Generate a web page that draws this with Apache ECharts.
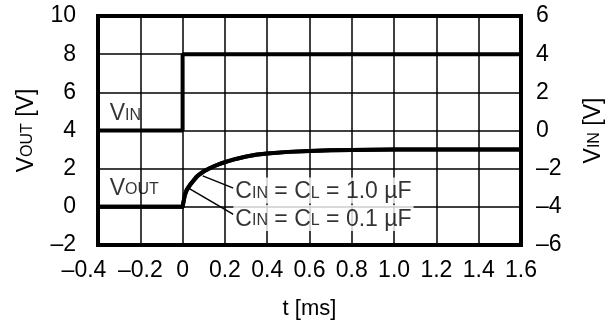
<!DOCTYPE html>
<html>
<head>
<meta charset="utf-8">
<script src="https://cdn.jsdelivr.net/npm/echarts@6/dist/echarts.min.js"></script>
<style>
  html, body { margin: 0; padding: 0; background: #fff; }
  #chart { width: 607px; height: 322px; }
</style>
</head>
<body>
<div id="chart"></div>
<script>
// time axis of the VOUT traces, ms
const tMs = [-0.4, 0, 0.01, 0.02, 0.035, 0.05, 0.067, 0.08, 0.1, 0.125, 0.15, 0.18, 0.21, 0.25,
  0.3, 0.35, 0.4, 0.5, 0.6, 0.7, 0.8, 0.9, 1.0, 1.2, 1.4, 1.6];
// VOUT for CIN = CL = 1.0 uF and 0.1 uF (they overlap almost completely)
const vout1uF = [0, 0, 0.58, 0.88, 1.13, 1.34, 1.57, 1.69, 1.85, 2.0, 2.13, 2.26, 2.37, 2.5,
  2.63, 2.73, 2.8, 2.88, 2.93, 2.96, 2.98, 2.99, 3.0, 3.0, 3.0, 3.0];
const vout01uF = [0, 0, 0.62, 0.92, 1.17, 1.37, 1.6, 1.71, 1.87, 2.01, 2.14, 2.27, 2.38, 2.51,
  2.64, 2.74, 2.8, 2.88, 2.93, 2.96, 2.98, 2.99, 3.0, 3.0, 3.0, 3.0];
// VIN step (right axis)
const vinT = [-0.4, 0, 0, 1.6];
const vinV = [0, 0, 4, 4];

const FONT = 'Liberation Sans';
const FS = 23;
const dash = s => String(s).replace('-', '\u2013');

const rich = {
  a: { fontFamily: FONT, fontSize: FS, color: '#000', verticalAlign: 'bottom', lineHeight: 26 },
  s: { fontFamily: FONT, fontSize: 16, color: '#000', verticalAlign: 'bottom', lineHeight: 18, padding: [0, 0, 2, 0] }
};

function pairs(xs, ys) {
  return xs.map((x, i) => [x, ys[i]]);
}

function textMark(t, v, text, bg) {
  return {
    type: 'scatter', yAxisIndex: 0, symbolSize: 0, silent: true,
    data: [[t, v]],
    label: {
      show: true, position: 'right', distance: 0, formatter: text, rich: rich,
      backgroundColor: bg ? '#fff' : 'transparent', padding: bg ? [0, 2, 0, 2] : 0
    },
    z: 5
  };
}

function leader(t0, v0, t1, v1) {
  return {
    type: 'line', yAxisIndex: 0, symbol: 'none', silent: true,
    data: [[t0, v0], [t1, v1]],
    lineStyle: { color: '#000', width: 1.5 }
  };
}

const chart = echarts.init(document.getElementById('chart'), null, { renderer: 'canvas' });

const option = {
  animation: false,
  backgroundColor: '#fff',
  grid: {
    left: 98, right: 86, top: 16, bottom: 77,
    outerBoundsMode: 'none', containLabel: false,
    show: true, borderWidth: 4, borderColor: '#000', backgroundColor: 'transparent'
  },
  xAxis: {
    type: 'value', min: -0.4, max: 1.6, interval: 0.2,
    name: 't [ms]', nameLocation: 'middle', nameGap: 53,
    nameTextStyle: { fontFamily: FONT, fontSize: 22, color: '#000' },
    axisLine: { show: false }, axisTick: { show: false },
    axisLabel: {
      fontFamily: FONT, fontSize: FS, color: '#000', margin: 14,
      formatter: v => {
        if (Math.abs(v + 0.4) < 1e-9) return '{l|' + dash('-0.4') + '}';
        return dash(Math.abs(v) < 1e-9 ? '0' : v.toFixed(1));
      },
      rich: { l: { fontFamily: FONT, fontSize: FS, color: '#000', padding: [0, 28, 0, 0] } }
    },
    splitLine: { show: true, lineStyle: { color: '#000', width: 1.5 } }
  },
  yAxis: [
    {
      type: 'value', min: -2, max: 10, interval: 2, position: 'left',
      name: '{a|V}{s|OUT}{a| [V]}', nameLocation: 'middle', nameGap: 60,
      nameTextStyle: { rich: rich },
      axisLine: { show: false }, axisTick: { show: false },
      axisLabel: { fontFamily: FONT, fontSize: FS, color: '#000', margin: 22, formatter: v => dash(v) },
      splitLine: { show: true, lineStyle: { color: '#000', width: 1.5 } }
    },
    {
      type: 'value', min: -6, max: 6, interval: 2, position: 'right',
      name: '{a|V}{s|IN}{a| [V]}', nameLocation: 'middle', nameGap: 58,
      nameTextStyle: { rich: rich },
      axisLine: { show: false }, axisTick: { show: false },
      axisLabel: { fontFamily: FONT, fontSize: FS, color: '#000', margin: 15, formatter: v => dash(v) },
      splitLine: { show: false }
    }
  ],
  series: [
    {
      type: 'line', yAxisIndex: 1, symbol: 'none', data: pairs(vinT, vinV),
      lineStyle: { color: '#000', width: 4 }, z: 4
    },
    {
      type: 'line', yAxisIndex: 0, symbol: 'none', data: pairs(tMs, vout01uF),
      lineStyle: { color: '#000', width: 4, join: 'round' }, z: 4
    },
    {
      type: 'line', yAxisIndex: 0, symbol: 'none', data: pairs(tMs, vout1uF),
      lineStyle: { color: '#000', width: 4, join: 'round' }, z: 4
    },
    leader(0.095, 1.62, 0.24, 0.98),
    leader(0.028, 0.98, 0.24, -0.4),
    textMark(-0.345, 4.95, '{a|V}{s|IN}', false),
    textMark(-0.345, 1.05, '{a|V}{s|OUT}', false),
    textMark(0.24, 0.85, '{a|C}{s|IN}{a| = C}{s|L}{a| = 1.0 \u00b5F}', true),
    textMark(0.24, -0.58, '{a|C}{s|IN}{a| = C}{s|L}{a| = 0.1 \u00b5F}', true)
  ]
};

chart.setOption(option);
</script>
</body>
</html>
